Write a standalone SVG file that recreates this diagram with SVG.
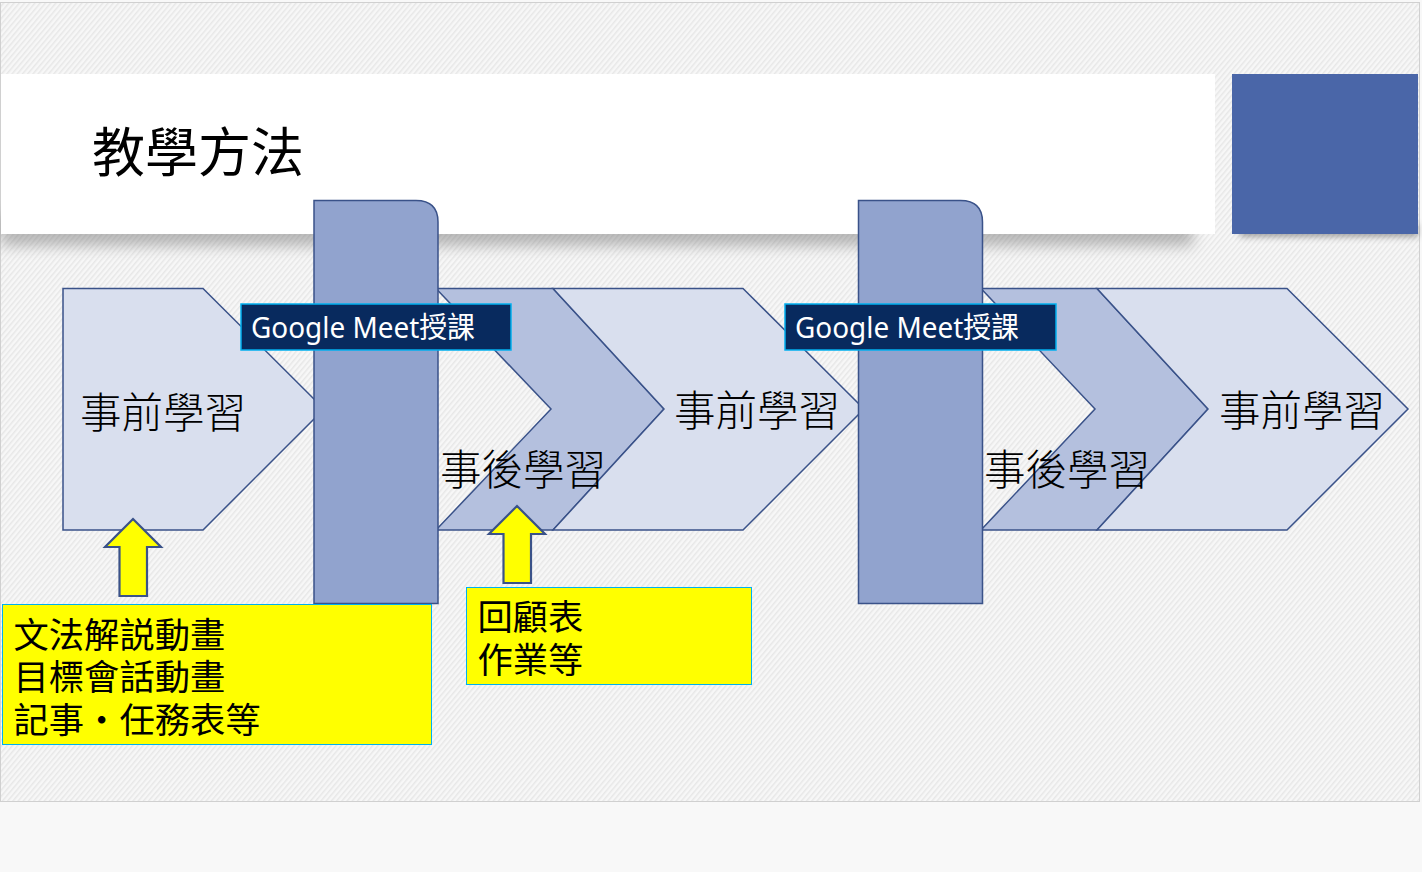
<svg xmlns="http://www.w3.org/2000/svg" width="1422" height="872" viewBox="0 0 1422 872">
<style>
text{font-family:"Noto Sans CJK TC","Noto Sans CJK JP",sans-serif;fill:#000}
.t{font-size:41.500px;font-weight:300}
.y{font-size:35.300px;font-weight:400}
.g{font-family:"Noto Sans","Noto Sans CJK TC",sans-serif;font-size:29px;fill:#fff;font-weight:400}
.s{stroke:#3a5289;stroke-width:1.5}
.l{fill:#d9dfee}.m{fill:#b4c0de}.b{fill:#91a3ce}
.a{fill:#ffff00;stroke-width:2.200}
.yb{fill:#ffff00;stroke:#00b0f0;stroke-width:1}
.nb{fill:#082a5e;stroke:#00b0f0;stroke-width:1.500}
</style>
<defs>
<pattern id="h" width="4" height="4" patternUnits="userSpaceOnUse" patternTransform="rotate(-50)">
<rect width="4" height="4" fill="#f7f7f7"/><rect width="4" height="1.500" fill="#e7e7e7"/>
</pattern>
<filter id="bl" x="-10%" y="-60%" width="120%" height="220%"><feGaussianBlur stdDeviation="7"/></filter>
<filter id="bl2" x="-10%" y="-60%" width="120%" height="220%"><feGaussianBlur stdDeviation="3"/></filter>
</defs>
<rect width="1422" height="872" fill="#f8f8f8"/>
<rect x="0.500" y="2.500" width="1419" height="799" fill="url(#h)" stroke="#d0d0d0" stroke-width="1"/>
<g id="band">
<rect x="1" y="214" width="1192" height="32" fill="#666" opacity=".42" filter="url(#bl)"/>
<rect x="1240" y="224" width="178" height="13" fill="#555" opacity=".5" filter="url(#bl2)"/>
<rect x="1" y="74" width="1214" height="160" fill="#fff"/>
<rect x="1232" y="74" width="186" height="160" fill="#4a66a8"/>
<text x="92" y="172" font-size="53" font-weight="400">教學方法</text>
</g>
<g id="n1">
<polygon class="l s" points="63,288.500 203,288.500 324,409 203,530 63,530"/>
<text class="t" x="80" y="428">事前學習</text>
</g>
<g id="n2">
<polygon class="m s" points="436,288.500 553,288.500 664,409 553,530 436,530 551,409"/>
</g>
<g id="n3">
<polygon class="l s" points="553,288.500 743,288.500 864,409 743,530 553,530 664,409"/>
<text class="t" x="674" y="426">事前學習</text>
</g>
<g id="n4">
<path class="b s" d="M314,200.500H416Q438,200.500 438,222V603.500H314Z"/>
<rect class="nb" x="241" y="304" width="270" height="46"/>
<text class="g" x="251" y="338" textLength="224" lengthAdjust="spacingAndGlyphs">Google Meet授課</text>
</g>
<text class="t" x="440" y="485">事後學習</text>
<g id="n5">
<polygon class="m s" points="981,288.500 1097,288.500 1208,409 1097,530 981,530 1095,409"/>
</g>
<g id="n6">
<polygon class="l s" points="1097,288.500 1287,288.500 1408,409 1287,530 1097,530 1208,409"/>
<text class="t" x="1219" y="426">事前學習</text>
</g>
<g id="n7">
<path class="b s" d="M858.500,200.500H960.500Q982.500,200.500 982.500,222V603.500H858.500Z"/>
<rect class="nb" x="785" y="304" width="271" height="46"/>
<text class="g" x="795" y="338" textLength="224" lengthAdjust="spacingAndGlyphs">Google Meet授課</text>
</g>
<text class="t" x="984" y="485">事後學習</text>
<g id="a1"><polygon class="a s" points="133,519 161,547 147,547 147,596 119.500,596 119.500,547 105,547"/></g>
<g id="a2"><polygon class="a s" points="517,506 545,534 531,534 531,583 503.500,583 503.500,534 489,534"/></g>
<g id="b1">
<rect class="yb" x="2.500" y="604.500" width="429" height="140"/>
<text class="y" x="13.500" y="647.500">文法解説動畫</text>
<text class="y" x="13.500" y="690">目標會話動畫</text>
<text class="y" x="13.500" y="732.500">記事・任務表等</text>
</g>
<g id="b2">
<rect class="yb" x="466.500" y="587.500" width="285" height="97"/>
<text class="y" x="477.500" y="630">回顧表</text>
<text class="y" x="477.500" y="673">作業等</text>
</g>
</svg>
